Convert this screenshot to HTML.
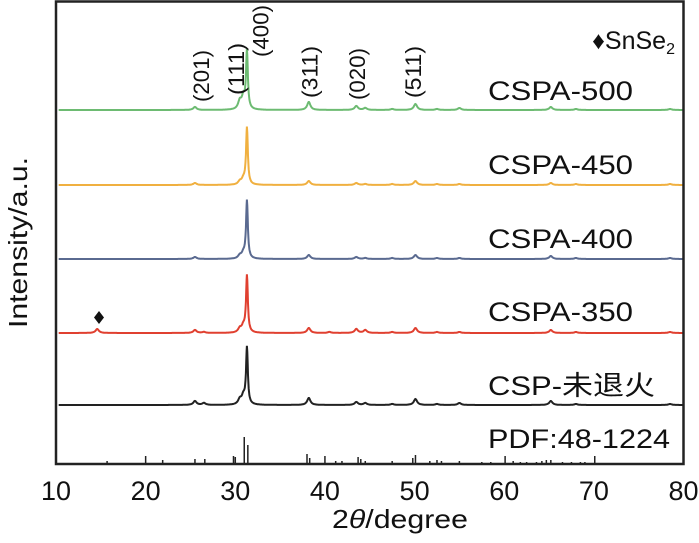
<!DOCTYPE html>
<html><head><meta charset="utf-8"><style>
body{margin:0;background:#fff}
svg text{font-family:"Liberation Sans","Noto Sans CJK SC",sans-serif;fill:#111}
</style></head><body>
<svg id="c" width="699" height="538" viewBox="0 0 699 538" xmlns="http://www.w3.org/2000/svg">
<g id="traces"></g>
<g id="sticks"></g>
<rect x="56" y="1.5" width="627.5" height="462.5" fill="none" stroke="#222" stroke-width="2.5"/>
<g id="xticks"></g>
<text x="332" y="528" font-size="26" textLength="136" lengthAdjust="spacingAndGlyphs">2<tspan font-style="italic">θ</tspan>/degree</text>
<text transform="translate(27,328) rotate(-90)" font-size="26" textLength="171" lengthAdjust="spacingAndGlyphs">Intensity/a.u.</text>
<text x="675" y="49" font-size="25" text-anchor="end">♦SnSe<tspan font-size="16" dy="5">2</tspan></text>
<g id="labels"></g>
<g id="miller"></g>
<path d="M99,311 L104,317.5 L99,324 L94,317.5Z" fill="#111"/>
</svg>
<script>
const seriesNames=["CSPA-500","CSPA-450","CSPA-400","CSPA-350","CSP-未退火"];
const seriesColors=["#6dbb72","#f0b040","#5a6a90","#e04030","#222222"];
const peakPos=[14.6,25.5,26.5,30.5,30.9,31.3,38.2,40.5,43.5,44.5,47.5,50.1,52.5,55.0,65.2,68.0,78.5];
const peaks500=[0,3,0,8,12,58,8,0,4,2,1,6,1,2,3,1,1];
const peaks450=[0,2,0,3,5,57,4,0,2,1,1,4,1,1,2,1,1];
const peaks400=[0,2,0,3,5,58,4,0,2,1,1,4,1,1,3,1,1];
const peaks350=[4,3,1,4,6,57,5,1,4,3,1,5,1,1,3,1,1];
const peaks0=[0,4,2,5,8,57,7,0,3,2,1,6,1,2,4,1,1];
const seriesPeaks=[peaks500,peaks450,peaks400,peaks350,peaks0];
const baselines=[110,185,259,333,405];
const stickPos=[15.7,20.0,21.9,25.5,26.6,29.8,30.0,31.0,31.4,38.0,38.3,40.0,41.2,41.9,43.7,44.0,44.5,47.5,49.8,50.1,51.7,52.5,53.0,55.0,57.5,58.5,60.1,61.0,61.8,62.5,63.6,64.2,64.7,65.2,66.5,67.5,68.5,69.0,70.1];
const stickH=[3,8,4,5,5,8,7,27,19,10,6,8,3,3,7,5,3,3,6,9,3,4,3,3,2,2,8,3,2,2,2,3,4,4,2,2,2,2,8];
const xTicks=[10,20,30,40,50,60,70,80];
const miller=["(201)","(111)","(400)","(311)","(020)","(511)"];
const millerX=[26.2,30.1,32.8,38.3,43.6,49.8];
const millerBottom=[102,95,57,98,100,98];
const X0=56,X1=683.5,PB=464;
const xs=v=>X0+(v-10)/70*(X1-X0);
const NS="http://www.w3.org/2000/svg";
function mk(t,a,p){const e=document.createElementNS(NS,t);for(const k in a)e.setAttribute(k,a[k]);p.appendChild(e);return e;}
const tg=document.getElementById('traces');
seriesPeaks.forEach((pk,i)=>{
 let d="";
 for(let x=10.3;x<=80;x+=0.04){
  let y=0;
  pk.forEach((h,j)=>{const w=(j==5)?0.12:0.22;const dx=(x-peakPos[j])/w;y+=h/(1+dx*dx);});
  d+=(d?"L":"M")+xs(x).toFixed(1)+","+(baselines[i]-y).toFixed(1);
 }
 const p=mk('path',{d:d,fill:'none',stroke:seriesColors[i],'stroke-width':2},tg);
 
 
});
const sg=document.getElementById('sticks');
stickPos.forEach((v,i)=>{
 const l=mk('line',{x1:xs(v),x2:xs(v),y1:PB,y2:PB-stickH[i],stroke:'#222','stroke-width':1.5},sg);
 
 
});
const xg=document.getElementById('xticks');
xTicks.forEach(v=>{
 const t=mk('text',{x:xs(v),y:500,'font-size':27,'text-anchor':'middle'},xg);
 t.textContent=v;
 
 
});
const lg=document.getElementById('labels');
const labY=[100,174,248,321,395,448];
const labW=[145,145,145,145,167,182];
seriesNames.concat(["PDF:48-1224"]).forEach((n,i)=>{
 const t=mk('text',{x:488,y:labY[i],'font-size':27,textLength:labW[i],lengthAdjust:'spacingAndGlyphs'},lg);
 t.textContent=n;
 
 
});
const mg=document.getElementById('miller');
miller.forEach((m,i)=>{
 const t=mk('text',{transform:`translate(${xs(millerX[i])+8},${millerBottom[i]}) rotate(-90)`,'font-size':22,textLength:52,lengthAdjust:'spacingAndGlyphs'},mg);
 t.textContent=m;
 
 
});
</script>
</body></html>
